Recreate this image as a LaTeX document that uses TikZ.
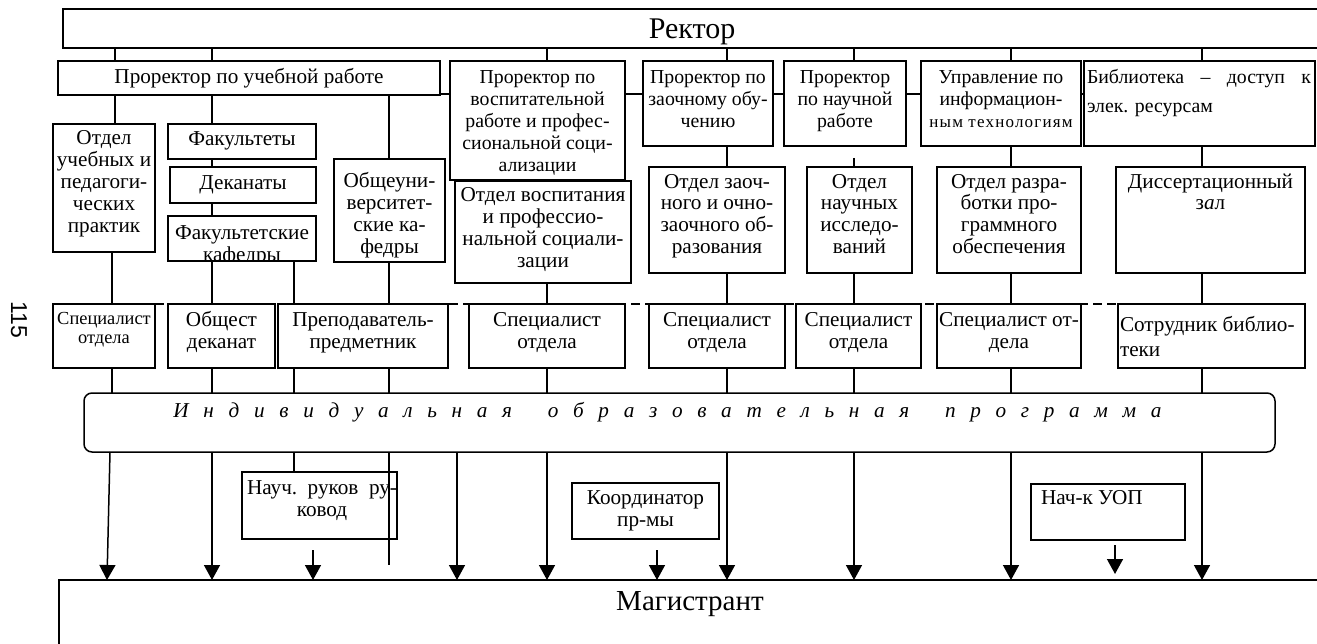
\documentclass[tikz,border=0pt]{standalone}
\usepackage{fontspec}
\setmainfont{Liberation Serif}
\newfontfamily\widesmall[LetterSpace=7]{Liberation Serif}
\newfontfamily\sansnum{Liberation Sans}
\usetikzlibrary{arrows.meta,backgrounds}
\tikzset{
  box/.style={draw, line width=1.5pt, fill=white, inner sep=0pt, outer sep=0pt,
    font=\fontsize{21.2}{22}\selectfont},
  plaintext/.style={inner sep=0pt, outer sep=0pt, font=\fontsize{21.2}{22}\selectfont},
  conn/.style={line width=1.5pt},
  thinconn/.style={line width=1.2pt},
  arr/.style={line width=1.5pt, -{Triangle[width=16pt,length=15pt]}},
}
\newcommand\smf{\fontsize{19.8}{22}\selectfont}
% name, x1, y1, x2, y2, first baseline offset, setup, text
\newcommand\bx[8]{%
  \node[box,anchor=north west] (#1) at (#2,#3)
  {\vbox to \dimexpr#5pt-#3pt\relax{\hsize=\dimexpr#4pt-#2pt\relax\parindent=0pt #7%
   \vskip\dimexpr#6pt-\ht\strutbox\relax\strut#8\par\vss}};}
\begin{document}
\begin{tikzpicture}[x=1pt,y=-1pt]
\path[use as bounding box] (0,0) rectangle (1317,644);
\clip (0,0) rectangle (1317,644);
% columns
\coordinate (xa) at (112,0);
\coordinate (xb) at (212,0);
\coordinate (xc) at (294,0);
\coordinate (xd) at (389,0);
\coordinate (xe) at (457,0);
\coordinate (xf) at (547,0);
\coordinate (xg) at (727,0);
\coordinate (xh) at (854,0);
\coordinate (xi) at (1011,0);
\coordinate (xj) at (1202,0);
\coordinate (hl) at (0,94);
% page number
\node[font=\sansnum\fontsize{23}{23}\selectfont, rotate=-90] (pg) at (19,320) {115};
% top
\bx{rector}{63}{9}{1321}{48}{30}{\centering\fontsize{30}{32}\selectfont}{Ректор}
\bx{pu}{58}{61}{440}{95}{23}{\centering}{Проректор по учебной работе}
\bx{pv}{450}{61}{625}{180}{23}{\centering\smf}{Проректор по\\воспитательной\\работе и профес-\\сиональной соци-\\ализации}
\bx{pz}{643}{61}{773}{146}{23}{\centering\smf}{Проректор по\\заочному обу-\\чению}
\bx{pn}{784}{61}{906}{146}{23}{\centering\smf}{Проректор\\по научной\\работе}
\bx{ui}{921}{61}{1081}{146}{23}{\centering\smf}{Управление по\\информацион-\\{\widesmall\fontsize{17}{17}\selectfont ным технологиям}}
\bx{lib}{1084}{61}{1315}{146}{23}{\fontsize{19.8}{29}\selectfont\leftskip=3pt\rightskip=4pt}{Библиотека\hfill–\hfill доступ\hfill к\\элек. ресурсам}
% level 3
\bx{ou}{53}{124}{155}{252}{21}{\centering}{Отдел\\учебных и\\педагоги-\\ческих\\практик}
\bx{fak}{168}{124}{316}{159}{22}{\centering}{Факультеты}
\bx{dek}{170}{167}{316}{203}{23}{\centering}{Деканаты}
\bx{fk}{168}{216}{316}{261}{23}{}{}
\begin{scope}
  \clip (168,216) rectangle (316,261);
  \node[plaintext, anchor=north west] (fkt) at (168,216)
    {\vbox to 45pt{\hsize=148pt\parindent=0pt\centering
     \vskip\dimexpr24pt-\ht\strutbox\relax\strut Факультетские\\кафедры\par\vss}};
\end{scope}
\bx{ok}{334}{159}{445}{262}{29}{\centering}{Общеуни-\\верситет-\\ские ка-\\федры}
\bx{ov}{455}{181}{631}{283}{21}{\centering}{Отдел воспитания\\и профессио-\\нальной социали-\\зации}
\bx{oz}{649}{167}{785}{273}{21}{\centering}{Отдел заоч-\\ного и очно-\\заочного об-\\разования}
\bx{on}{807}{167}{912}{273}{21}{\centering}{Отдел\\научных\\исследо-\\ваний}
\bx{or}{937}{167}{1081}{273}{21}{\centering}{Отдел разра-\\ботки про-\\граммного\\обеспечения}
\bx{dz}{1116}{167}{1305}{273}{21}{\centering}{Диссертационный\\з\textit{а}л}
% specialists
\bx{s1}{53}{304}{155}{368}{20}{\centering\fontsize{18.4}{19}\selectfont}{Специалист\\отдела}
\bx{s2}{168}{304}{275}{368}{22}{\centering}{Общест\\деканат}
\bx{s3}{278}{304}{448}{368}{22}{\centering}{Преподаватель-\\предметник}
\bx{s4}{469}{304}{625}{368}{22}{\centering}{Специалист\\отдела}
\bx{s5}{649}{304}{785}{368}{22}{\centering}{Специалист\\отдела}
\bx{s6}{796}{304}{921}{368}{22}{\centering}{Специалист\\отдела}
\bx{s7}{937}{304}{1081}{368}{22}{\centering}{Специалист от-\\дела}
\bx{s8}{1118}{304}{1305}{368}{27}{\fontsize{21.2}{25}\selectfont\raggedright\leftskip=2pt}{Сотрудник библио-\\теки}
% individual programme
\node[box, rounded corners=8pt, anchor=north west] (iop) at (84,393)
  {\vbox to 59pt{\hsize=1191pt\parindent=0pt\centering\itshape\spaceskip=14.7pt\relax
   \vskip\dimexpr24pt-\ht\strutbox\relax\strut
   И н д и в и д у а л ь н а я\hspace{21pt} о б р а з о в а т е л ь н а я\hspace{21pt} п р о г р а м м а\kern24pt\par\vss}};
% lower boxes
\bx{nr}{242}{472}{397}{539}{22}{\leftskip=5pt\rightskip=0pt}{Науч.\hfill руков\hfill ру-\\\null\hfill ковод\hfill\null}
\bx{kp}{572}{483}{719}{539}{21}{\centering}{Координатор\\пр-мы}
\bx{nu}{1031}{484}{1185}{540}{20}{\raggedright\leftskip=10pt}{Нач-к УОП}
\bx{mag}{59}{580}{1321}{690}{30}{\centering\fontsize{29}{30}\selectfont}{Магистрант}
% free ends
\coordinate (onTop) at (854,158);
\coordinate (t1) at (313,550);
\coordinate (t2) at (657,550);
\coordinate (t3) at (1115,545);
\coordinate (t3e) at (1115,574);
\coordinate (dEnd) at (389,565);
\begin{pgfonlayer}{background}
  \draw[conn] (pu.east |- hl) -- (lib.west |- hl);
  \draw[thinconn, dash pattern=on 9pt off 5pt] (s1.north east) -- (s8.north west);
  % rector to level 2
  \draw[conn] (115,0 |- rector.south) -- (115,0 |- pu.north);
  \draw[conn] (xb |- rector.south) -- (xb |- pu.north);
  \draw[conn] (xf |- rector.south) -- (xf |- pv.north);
  \draw[conn] (xg |- rector.south) -- (xg |- pz.north);
  \draw[conn] (xh |- rector.south) -- (xh |- pn.north);
  \draw[conn] (xi |- rector.south) -- (xi |- ui.north);
  \draw[conn] (xj |- rector.south) -- (xj |- lib.north);
  % level 2 to level 3
  \draw[conn] (115,0 |- pu.south) -- (115,0 |- ou.north);
  \draw[conn] (xb |- pu.south) -- (xb |- fak.north);
  \draw[conn] (xb |- fak.south) -- (xb |- dek.north);
  \draw[conn] (xb |- dek.south) -- (xb |- fk.north);
  \draw[conn] (xd |- pu.south) -- (xd |- ok.north);
  \draw[conn] (xg |- pz.south) -- (xg |- oz.north);
  \draw[conn] (onTop) -- (xh |- on.north);
  \draw[conn] (xi |- ui.south) -- (xi |- or.north);
  \draw[conn] (xj |- lib.south) -- (xj |- dz.north);
  % level 3 to specialists
  \draw[conn] (xa |- ou.south) -- (xa |- s1.north);
  \draw[conn] (xb |- fk.south) -- (xb |- s2.north);
  \draw[thinconn] (xc |- fk.south) -- (xc |- s3.north);
  \draw[thinconn] (xd |- ok.south) -- (xd |- s3.north);
  \draw[conn] (xf |- ov.south) -- (xf |- s4.north);
  \draw[conn] (xg |- oz.south) -- (xg |- s5.north);
  \draw[conn] (xh |- on.south) -- (xh |- s6.north);
  \draw[conn] (xi |- or.south) -- (xi |- s7.north);
  \draw[conn] (xj |- dz.south) -- (xj |- s8.north);
  % specialists to programme
  \draw[conn] (xa |- s1.south) -- (xa |- iop.north);
  \draw[conn] (xb |- s2.south) -- (xb |- iop.north);
  \draw[thinconn] (xc |- s3.south) -- (xc |- iop.north);
  \draw[thinconn] (xd |- s3.south) -- (xd |- iop.north);
  \draw[conn] (xf |- s4.south) -- (xf |- iop.north);
  \draw[conn] (xg |- s5.south) -- (xg |- iop.north);
  \draw[conn] (xh |- s6.south) -- (xh |- iop.north);
  \draw[conn] (xi |- s7.south) -- (xi |- iop.north);
  \draw[conn] (xj |- s8.south) -- (xj |- iop.north);
\end{pgfonlayer}
% programme to master student
\draw[arr] (110,0 |- iop.south) -- (107,0 |- mag.north);
\draw[arr] (xb |- iop.south) -- (xb |- mag.north);
\draw[thinconn] (xc |- iop.south) -- (xc |- nr.north);
\draw[thinconn] (xd |- iop.south) -- (dEnd);
\draw[arr] (xe |- iop.south) -- (xe |- mag.north);
\draw[arr] (xf |- iop.south) -- (xf |- mag.north);
\draw[arr] (xg |- iop.south) -- (xg |- mag.north);
\draw[arr] (xh |- iop.south) -- (xh |- mag.north);
\draw[arr] (xi |- iop.south) -- (xi |- mag.north);
\draw[arr] (xj |- iop.south) -- (xj |- mag.north);
\draw[arr] (t1) -- (t1 |- mag.north);
\draw[arr] (t2) -- (t2 |- mag.north);
\draw[arr] (t3) -- (t3e);
\end{tikzpicture}
\end{document}
